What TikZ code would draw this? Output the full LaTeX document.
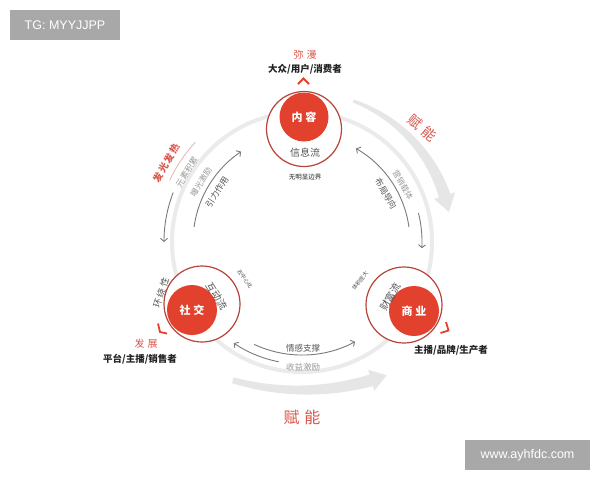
\documentclass[tikz,border=0pt]{standalone}
\usepackage{fontspec}
\setmainfont{Noto Sans CJK SC}
\newfontfamily\latinfont{Liberation Sans}
\usetikzlibrary{arrows.meta,calc}
\definecolor{cred}{HTML}{E2412D}
\definecolor{cring}{HTML}{B8433A}
\definecolor{lred}{HTML}{D9574B}
\definecolor{arrowgrey}{HTML}{E6E6E6}
\definecolor{ringgrey}{HTML}{EBEBEB}
\definecolor{thingrey}{HTML}{7A7A7A}
\definecolor{txt}{HTML}{555555}
\definecolor{ltxt}{HTML}{9A9A9A}
\definecolor{dark}{HTML}{222222}
\definecolor{wm}{HTML}{A8A8A8}
\tikzset{
  thinarrow/.style={draw=thingrey,line width=0.9pt,-{Straight Barb[length=3pt,width=7pt]}},
  outerring/.style={draw=cring,line width=1.2pt,fill=white},
  core/.style={fill=cred,draw=none},
  coretext/.style={text=white,font=\fontsize{11}{12}\selectfont\bfseries},
  chev/.style={draw=cred,line width=1.8pt},
  label/.style={text=dark,font=\fontsize{9.5}{11}\selectfont\bfseries},
  redlabel/.style={text=lred,font=\fontsize{10}{11}\selectfont},
  arctext/.style={text=txt,font=\fontsize{8.5}{10}\selectfont,inner sep=1pt},
  arctextl/.style={text=ltxt,font=\fontsize{8.5}{10}\selectfont,inner sep=1pt},
  tiny/.style={text=txt,font=\fontsize{5.5}{6}\selectfont,inner sep=0.5pt},
  wmbox/.style={fill=wm,text=white,font=\latinfont\fontsize{12.5}{13}\selectfont,inner sep=0pt}
}
\begin{document}
\begin{tikzpicture}[x=1pt,y=-1pt]
\fill[white] (0,0) rectangle (600,480);
\useasboundingbox (0,0) rectangle (600,480);
\coordinate (C) at (302,242);
\coordinate (B) at (302,139);

% big grey ring
\draw[ringgrey,line width=4pt] (C) circle[radius=130];

% tapered grey arrow (top right)
\fill[arrowgrey] plot[domain=0:1,samples=40,variable=\t]
  ({302+(150+(1.5+4.5*\t))*cos(-70+52*\t)},{242+(150+(1.5+4.5*\t))*sin(-70+52*\t)})
  -- plot[domain=1:0,samples=40,variable=\t]
  ({302+(150-(1.5+4.5*\t))*cos(-70+52*\t)},{242+(150-(1.5+4.5*\t))*sin(-70+52*\t)}) -- cycle;
\fill[arrowgrey] ($(C)+(-18:161)$) -- ($(C)+(-11.5:150)$) -- ($(C)+(-18:139)$) -- cycle;

% tapered grey arrow (bottom)
\fill[arrowgrey] plot[domain=0:1,samples=40,variable=\t]
  ({302+(251+(3+3*\t))*cos(106-32*\t)},{139+(251+(3+3*\t))*sin(106-32*\t)})
  -- plot[domain=1:0,samples=40,variable=\t]
  ({302+(251-(3+3*\t))*cos(106-32*\t)},{139+(251-(3+3*\t))*sin(106-32*\t)}) -- cycle;
\fill[arrowgrey] ($(B)+(74:262)$) -- ($(B)+(70.3:251)$) -- ($(B)+(74:240)$) -- cycle;

% thin arrows
\draw[thinarrow] ($(C)+(201:138)$) arc[start angle=201,end angle=180,radius=138];
\draw[thinarrow] ($(C)+(188:109)$) arc[start angle=188,end angle=236,radius=109];
\draw[thinarrow] ($(C)+(-8:108)$) arc[start angle=-8,end angle=-60,radius=108];
\draw[thinarrow] ($(C)+(-14:120)$) arc[start angle=-14,end angle=3,radius=120];
\draw[thinarrow] ($(C)+(101:122)$) arc[start angle=101,end angle=124,radius=122];
\draw[thinarrow] ($(C)+(115:113)$) arc[start angle=115,end angle=62,radius=113];
% pink line
\draw[draw=lred!45,line width=0.8pt] ($(C)+(205:146)$) arc[start angle=205,end angle=223,radius=146];

% circles
\draw[outerring] (304,129) circle[radius=37.5];
\fill[core] (304,117) circle[radius=24.5];
\draw[outerring] (202,304) circle[radius=38];
\fill[core] (192,310) circle[radius=25];
\draw[outerring] (404,305) circle[radius=38];
\fill[core] (414,311) circle[radius=25];

\node[coretext] (nr) at (304,117) {内\hspace{3pt}容};
\node[coretext] (sj) at (192,310) {社\hspace{3pt}交};
\node[coretext] (sy) at (414,311) {商\hspace{3pt}业};

% chevrons
\draw[chev] (298,84) -- (303.5,78.5) -- (309,84);
\draw[chev] (158,323.5) -- (160,332) -- (167,333.5);
\draw[chev] (446,322) -- (448.5,330.5) -- (440.5,333);

% top labels
\node[redlabel] (mm) at (305,55) {弥\hspace{3pt}漫};
\node[label] (dz) at (305,69) {大众/用户/消费者};
\node[text=txt,font=\fontsize{10}{11}\selectfont] (xx) at (305,153) {信息流};
\node[text=dark,font=\fontsize{6.5}{7}\selectfont] (wm1) at (305,177) {无明显边界};

% left labels
\node[text=lred,font=\fontsize{9.5}{10}\selectfont\bfseries,rotate=60,inner sep=1pt] (fg) at (166,163) {发\hspace{1.5pt}光\hspace{1.5pt}发\hspace{1.5pt}热};
\node[arctextl,rotate=58] (ys) at (187,172) {元素积累};
\node[text=ltxt,font=\fontsize{8}{9}\selectfont,rotate=58,inner sep=1pt] (bg) at (201,182) {曝光激励};
\node[arctext,rotate=57] (yl) at (217,192) {引力作用};

% right labels
\node[text=ltxt,font=\fontsize{8}{9}\selectfont,rotate=-60,inner sep=1pt] (yx) at (403,185) {营销载体};
\node[arctext,rotate=-60] (bj) at (386,194) {布局导向};
\node[text=lred,font=\fontsize{14}{15}\selectfont,rotate=-40] (fn1) at (422,128) {赋\hspace{4pt}能};

% bottom labels
\node[arctext] (qg) at (303,348) {情感支撑};
\node[arctextl] (sy2) at (303,367) {收益激励};
\node[text=lred,font=\fontsize{16}{17}\selectfont] (fn2) at (302,417) {赋\hspace{5pt}能};

% social labels
\node[text=txt,font=\fontsize{9}{10}\selectfont,rotate=72,inner sep=1pt] (hr) at (161,293) {环\hspace{2pt}绕\hspace{2pt}性};
\node[text=txt,font=\fontsize{10}{11}\selectfont,rotate=-58,inner sep=1pt] (hd) at (217,296) {互动流};
\node[tiny,rotate=-55] (qz) at (245,279) {去中心化};
\node[redlabel] (fz) at (146,344) {发\hspace{3pt}展};
\node[label] (pt) at (140,359) {平台/主播/销售者};

% commerce labels
\node[text=txt,font=\fontsize{10}{11}\selectfont,rotate=60,inner sep=1pt] (cf) at (390,297) {财富流};
\node[tiny,rotate=52] (tj) at (360,281) {体积庞大};
\node[label] (zb) at (451,350) {主播/品牌/生产者};

% watermarks
\node[wmbox,minimum width=110pt,minimum height=30pt] (tg) at (65,25) {TG: MYYJJPP};
\node[wmbox,minimum width=125pt,minimum height=30pt] (ws) at (527.5,455) {www.ayhfdc.com};
\end{tikzpicture}
\end{document}
